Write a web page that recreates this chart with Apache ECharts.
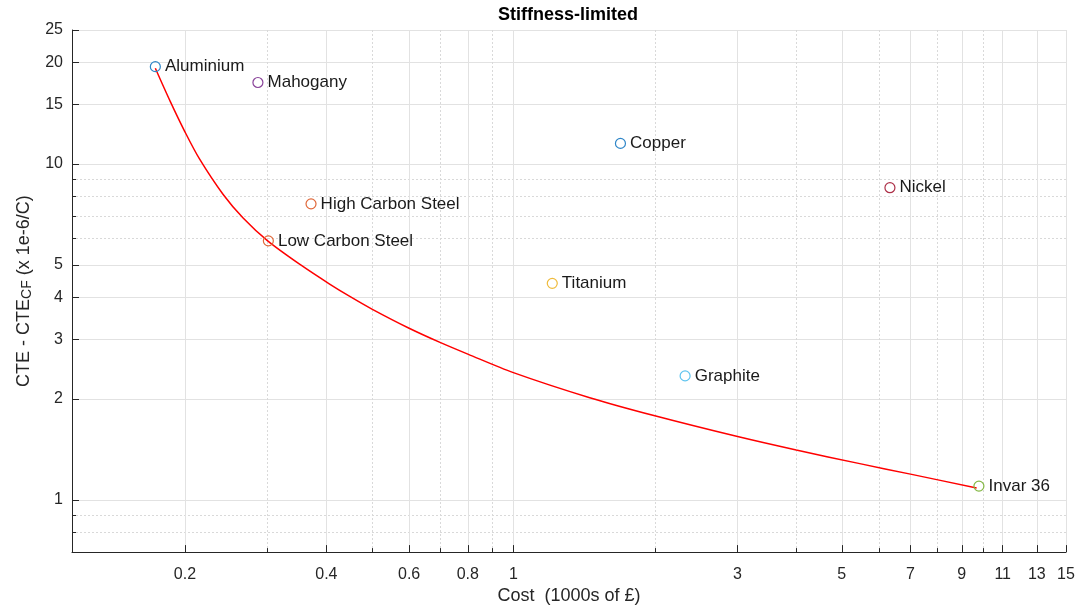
<!DOCTYPE html>
<html>
<head>
<meta charset="utf-8">
<script src="https://cdn.jsdelivr.net/npm/echarts@6/dist/echarts.min.js"></script>
<style>
html,body{margin:0;padding:0;background:#fff;}
#chart{width:1080px;height:610px;}
</style>
</head>
<body>
<div id="chart"></div>
<script>
// ---- data ----
const materials = ['Aluminium','Mahogany','High Carbon Steel','Low Carbon Steel','Copper','Titanium','Nickel','Graphite','Invar 36'];
const cost = [0.173, 0.286, 0.371, 0.301, 1.69, 1.21, 6.33, 2.32, 9.79];
const cte  = [19.45, 17.45, 7.6, 5.9, 11.5, 4.41, 8.49, 2.34, 1.10];
const curveCost = [0.173, 0.1862, 0.2, 0.2148, 0.241, 0.266, 0.3, 0.354, 0.4064, 0.4477, 0.5, 0.6, 0.7, 0.8, 1.0, 1.454, 2, 3, 4, 5.46, 7, 9.68];
const curveCte  = [19.24, 15.31, 12.45, 10.34, 8.12, 6.90, 5.90, 4.985, 4.389, 4.04, 3.698, 3.243, 2.938, 2.716, 2.393, 2.015, 1.780, 1.544, 1.408, 1.283, 1.194, 1.086];
const xTicks = [0.2, 0.4, 0.6, 0.8, 1, 3, 5, 7, 9, 11, 13, 15];
const xMinor = [0.3, 0.5, 0.7, 0.9, 2, 4, 6, 8, 10];
const yTicks = [1, 2, 3, 4, 5, 10, 15, 20, 25];
const yMinor = [0.8, 0.9, 6, 7, 8, 9];

// ---- style ----
const palette = ['#2f86c8','#8a449a','#e0683a','#e0683a','#2f86c8','#efbb3c','#ad3048','#5ec4ef','#85b845'];
const FONT = 'Liberation Sans, Arial, Helvetica, sans-serif';
const AX = '#262626';
const fmt = v => String(parseFloat(Number(v).toPrecision(4)));

const chart = echarts.init(document.getElementById('chart'), null, {renderer:'canvas'});

const scatterSeries = materials.map((name, i) => ({
  type: 'scatter',
  name: name,
  xAxisIndex: 0, yAxisIndex: 0,
  data: [[cost[i], cte[i]]],
  symbol: 'circle',
  symbolSize: 10,
  itemStyle: {color: 'rgba(255,255,255,0)', borderColor: palette[i], borderWidth: 1.2, opacity: 1},
  label: {show: true, position: 'right', distance: 4, formatter: name, color: '#1a1a1a', fontSize: 17, fontFamily: FONT},
  emphasis: {disabled: true},
  z: 3
}));

const option = {
  backgroundColor: '#ffffff',
  animation: false,
  textStyle: {fontFamily: FONT},
  title: {
    text: 'Stiffness-limited',
    left: 498, top: 6, padding: 0,
    textStyle: {fontSize: 18, fontWeight: 'bold', color: '#000', fontFamily: FONT}
  },
  grid: {left: 72, right: 14, top: 30, bottom: 57, containLabel: false},
  xAxis: [{
    type: 'log', logBase: 10, min: 0.115, max: 15,
    name: 'Cost  (1000s of £)', nameLocation: 'middle', nameGap: 31,
    nameTextStyle: {fontSize: 18, color: AX, fontFamily: FONT},
    axisLine: {show: true, lineStyle: {color: AX, width: 1}},
    axisTick: {show: true, inside: true, length: 7, customValues: xTicks, lineStyle: {color: AX}},
    axisLabel: {show: true, customValues: xTicks, formatter: fmt, fontSize: 16, color: AX, margin: 14, fontFamily: FONT},
    splitLine: {show: true, lineStyle: {color: '#e2e2e2', width: 1}},
    minorTick: {show: false}, minorSplitLine: {show: false}
  }, {
    type: 'log', logBase: 10, min: 0.115, max: 15, position: 'bottom', offset: 0,
    axisLine: {show: false},
    axisTick: {show: true, inside: true, length: 4, customValues: xMinor, lineStyle: {color: AX}},
    axisLabel: {show: false, customValues: xMinor},
    splitLine: {show: true, lineStyle: {color: '#d9d9d9', width: 1, type: [2, 2]}}
  }],
  yAxis: [{
    type: 'log', logBase: 10, min: 0.7, max: 25,
    name: 'CTE - CTE{sub|CF} (x 1e-6/C)', nameLocation: 'middle', nameGap: 36, nameRotate: 90,
    nameTextStyle: {fontSize: 18, color: AX, fontFamily: FONT, lineHeight: 20,
      rich: {sub: {fontSize: 14, color: AX, fontFamily: FONT, lineHeight: 12, verticalAlign: 'bottom'}}},
    axisLine: {show: true, lineStyle: {color: AX, width: 1}},
    axisTick: {show: true, inside: true, length: 7, customValues: yTicks, lineStyle: {color: AX}},
    axisLabel: {show: true, customValues: yTicks, formatter: fmt, fontSize: 16, color: AX, margin: 9, fontFamily: FONT},
    splitLine: {show: true, lineStyle: {color: '#e2e2e2', width: 1}},
    minorTick: {show: false}, minorSplitLine: {show: false}
  }, {
    type: 'log', logBase: 10, min: 0.7, max: 25, position: 'left', offset: 0,
    axisLine: {show: false},
    axisTick: {show: true, inside: true, length: 4, customValues: yMinor, lineStyle: {color: AX}},
    axisLabel: {show: false, customValues: yMinor},
    splitLine: {show: true, lineStyle: {color: '#d9d9d9', width: 1, type: [2, 2]}}
  }],
  series: [{
    type: 'line',
    name: 'limit',
    xAxisIndex: 0, yAxisIndex: 0,
    data: curveCost.map((c, i) => [c, curveCte[i]]),
    smooth: 0.3,
    showSymbol: false,
    lineStyle: {color: '#ff0000', width: 1.5},
    emphasis: {disabled: true},
    z: 2
  }].concat(scatterSeries)
};
chart.setOption(option);
</script>
</body>
</html>
